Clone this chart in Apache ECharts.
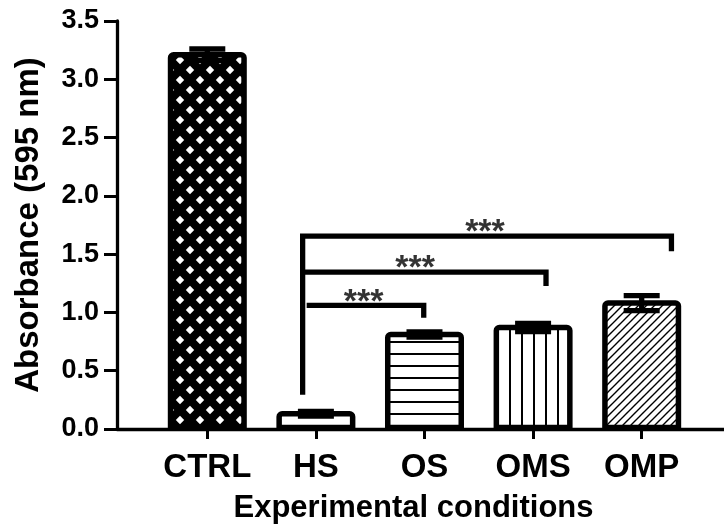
<!DOCTYPE html>
<html>
<head>
<meta charset="utf-8">
<script src="https://cdn.jsdelivr.net/npm/echarts@6/dist/echarts.min.js"></script>
<style>
  html, body { margin: 0; padding: 0; background: #fff; }
  #chart { width: 724px; height: 529px; }
</style>
</head>
<body>
<div id="chart"></div>
<script>
// data
const categories = ['CTRL', 'HS', 'OS', 'OMS', 'OMP'];
const means = [3.21, 0.13, 0.81, 0.87, 1.08];
const sems = [0.05, 0.02, 0.022, 0.035, 0.065];
const yTicks = [0, 0.5, 1, 1.5, 2, 2.5, 3, 3.5];

// significance brackets (x in category units, y in absorbance)
const bracketOMP = [[0.878, 0.293], [0.878, 1.654], [4.274, 1.654], [4.274, 1.525]];
const bracketOMS = [[0.878, 1.346], [3.119, 1.346], [3.119, 1.227]];
const bracketOS = [[0.915, 1.061], [1.993, 1.061], [1.993, 0.954]];
const starMarks = [[2.557, 1.75], [1.913, 1.443], [1.439, 1.155]];
const starText = '***';

const FONT = "'Liberation Sans', Arial, sans-serif";

// fill patterns, like the prism-style bars
function makeTile(w, h, draw) {
  const c = document.createElement('canvas');
  c.width = w;
  c.height = h;
  const ctx = c.getContext('2d');
  ctx.fillStyle = '#fff';
  ctx.fillRect(0, 0, w, h);
  draw(ctx);
  return { image: c, repeat: 'repeat' };
}

const crossHatch = makeTile(20, 20, (ctx) => {
  ctx.fillStyle = '#000';
  ctx.fillRect(0, 0, 20, 20);
  ctx.fillStyle = '#fff';
  const d = 4.2;
  [[0, 0], [20, 0], [0, 20], [20, 20], [10, 10]].forEach(([cx, cy]) => {
    ctx.beginPath();
    ctx.moveTo(cx, cy - d);
    ctx.lineTo(cx + d, cy);
    ctx.lineTo(cx, cy + d);
    ctx.lineTo(cx - d, cy);
    ctx.closePath();
    ctx.fill();
  });
});
const horizLines = makeTile(12, 12, (ctx) => {
  ctx.fillStyle = '#000';
  ctx.fillRect(0, 5, 12, 2);
});
const vertLines = makeTile(12, 12, (ctx) => {
  ctx.fillStyle = '#000';
  ctx.fillRect(5, 0, 2, 12);
});
const diagLines = makeTile(8, 8, (ctx) => {
  ctx.strokeStyle = '#000';
  ctx.lineWidth = 1.4;
  ctx.beginPath();
  ctx.moveTo(-2, 10);
  ctx.lineTo(10, -2);
  ctx.moveTo(-6, 6);
  ctx.lineTo(6, -6);
  ctx.moveTo(2, 14);
  ctx.lineTo(14, 2);
  ctx.stroke();
});
const fills = [crossHatch, '#fff', horizLines, vertLines, diagLines];

const barData = means.map((m, i) => [i, m]);
const errData = means.map((m, i) => [i, m, sems[i]]);

const bracketSeries = [bracketOMP, bracketOMS, bracketOS].map((pts) => ({
  type: 'line',
  data: pts,
  symbol: 'none',
  silent: true,
  z: 5,
  lineStyle: { color: '#000', width: 5.3, cap: 'butt', join: 'miter' },
}));

const BAR_W = 73.5; // inner width, the border is stroked on the edge
const BORDER = 5.5;

const chart = echarts.init(document.getElementById('chart'));
chart.setOption({
  animation: false,
  backgroundColor: '#fff',
  textStyle: { fontFamily: FONT },
  grid: { left: 117, right: 0, top: 21, bottom: 98 },
  xAxis: {
    type: 'value',
    min: -0.8315,
    max: 4.758,
    name: 'Experimental conditions',
    nameLocation: 'middle',
    nameGap: 64,
    nameTextStyle: {
      fontFamily: FONT, fontWeight: 'bold', fontSize: 31, color: '#000',
      padding: [0, 14, 0, 0],
    },
    splitLine: { show: false },
    axisLine: { onZero: false, lineStyle: { color: '#000', width: 3.3 } },
    axisTick: {
      customValues: [0, 1, 2, 3, 4],
      length: 10,
      lineStyle: { color: '#000', width: 3 },
    },
    axisLabel: {
      customValues: [0, 1, 2, 3, 4],
      margin: 22,
      fontFamily: FONT,
      fontWeight: 'bold',
      fontSize: 33,
      color: '#000',
      formatter: (v) => categories[Math.round(v)],
    },
  },
  yAxis: {
    type: 'value',
    min: 0,
    max: 3.5,
    interval: 0.5,
    name: 'Absorbance (595 nm)',
    nameLocation: 'middle',
    nameGap: 72,
    nameTextStyle: { fontFamily: FONT, fontWeight: 'bold', fontSize: 33, color: '#000' },
    splitLine: { show: false },
    axisLine: { show: true, onZero: false, lineStyle: { color: '#000', width: 3.3 } },
    axisTick: { show: true, length: 13, lineStyle: { color: '#000', width: 3 } },
    axisLabel: {
      margin: 18,
      fontFamily: FONT,
      fontWeight: 'bold',
      fontSize: 27,
      color: '#000',
      formatter: (v) => (yTicks.includes(v) ? v.toFixed(1) : ''),
    },
  },
  series: [
    {
      // bars: rect with its border centred on the value, like the original
      type: 'custom',
      data: barData,
      z: 2,
      renderItem: (params, api) => {
        const x = api.value(0);
        const top = api.coord([x, api.value(1)]);
        const base = api.coord([x, 0]);
        return {
          type: 'rect',
          shape: {
            x: top[0] - BAR_W / 2,
            y: top[1],
            width: BAR_W,
            height: base[1] - top[1] - 1.5,
            r: [3, 3, 0, 0],
          },
          style: {
            fill: fills[params.dataIndex],
            stroke: '#000',
            lineWidth: BORDER,
          },
        };
      },
    },
    {
      type: 'custom',
      data: errData,
      z: 4,
      renderItem: (params, api) => {
        const x = api.value(0);
        const m = api.value(1);
        const s = api.value(2);
        const top = api.coord([x, m + s]);
        const bot = api.coord([x, m - s]);
        const half = 18;
        const st = { stroke: '#000', lineWidth: 5.3 };
        return {
          type: 'group',
          children: [
            { type: 'line', shape: { x1: top[0], y1: top[1], x2: bot[0], y2: bot[1] }, style: st },
            { type: 'line', shape: { x1: top[0] - half, y1: top[1], x2: top[0] + half, y2: top[1] }, style: st },
            { type: 'line', shape: { x1: bot[0] - half, y1: bot[1], x2: bot[0] + half, y2: bot[1] }, style: st },
          ],
        };
      },
    },
    ...bracketSeries,
    {
      type: 'scatter',
      data: starMarks,
      symbolSize: 0,
      silent: true,
      z: 6,
      label: {
        show: true,
        position: 'inside',
        offset: [0, 8],
        formatter: starText,
        fontFamily: FONT,
        fontWeight: 'bold',
        fontSize: 34,
        color: '#000',
      },
    },
  ],
});
</script>
</body>
</html>
